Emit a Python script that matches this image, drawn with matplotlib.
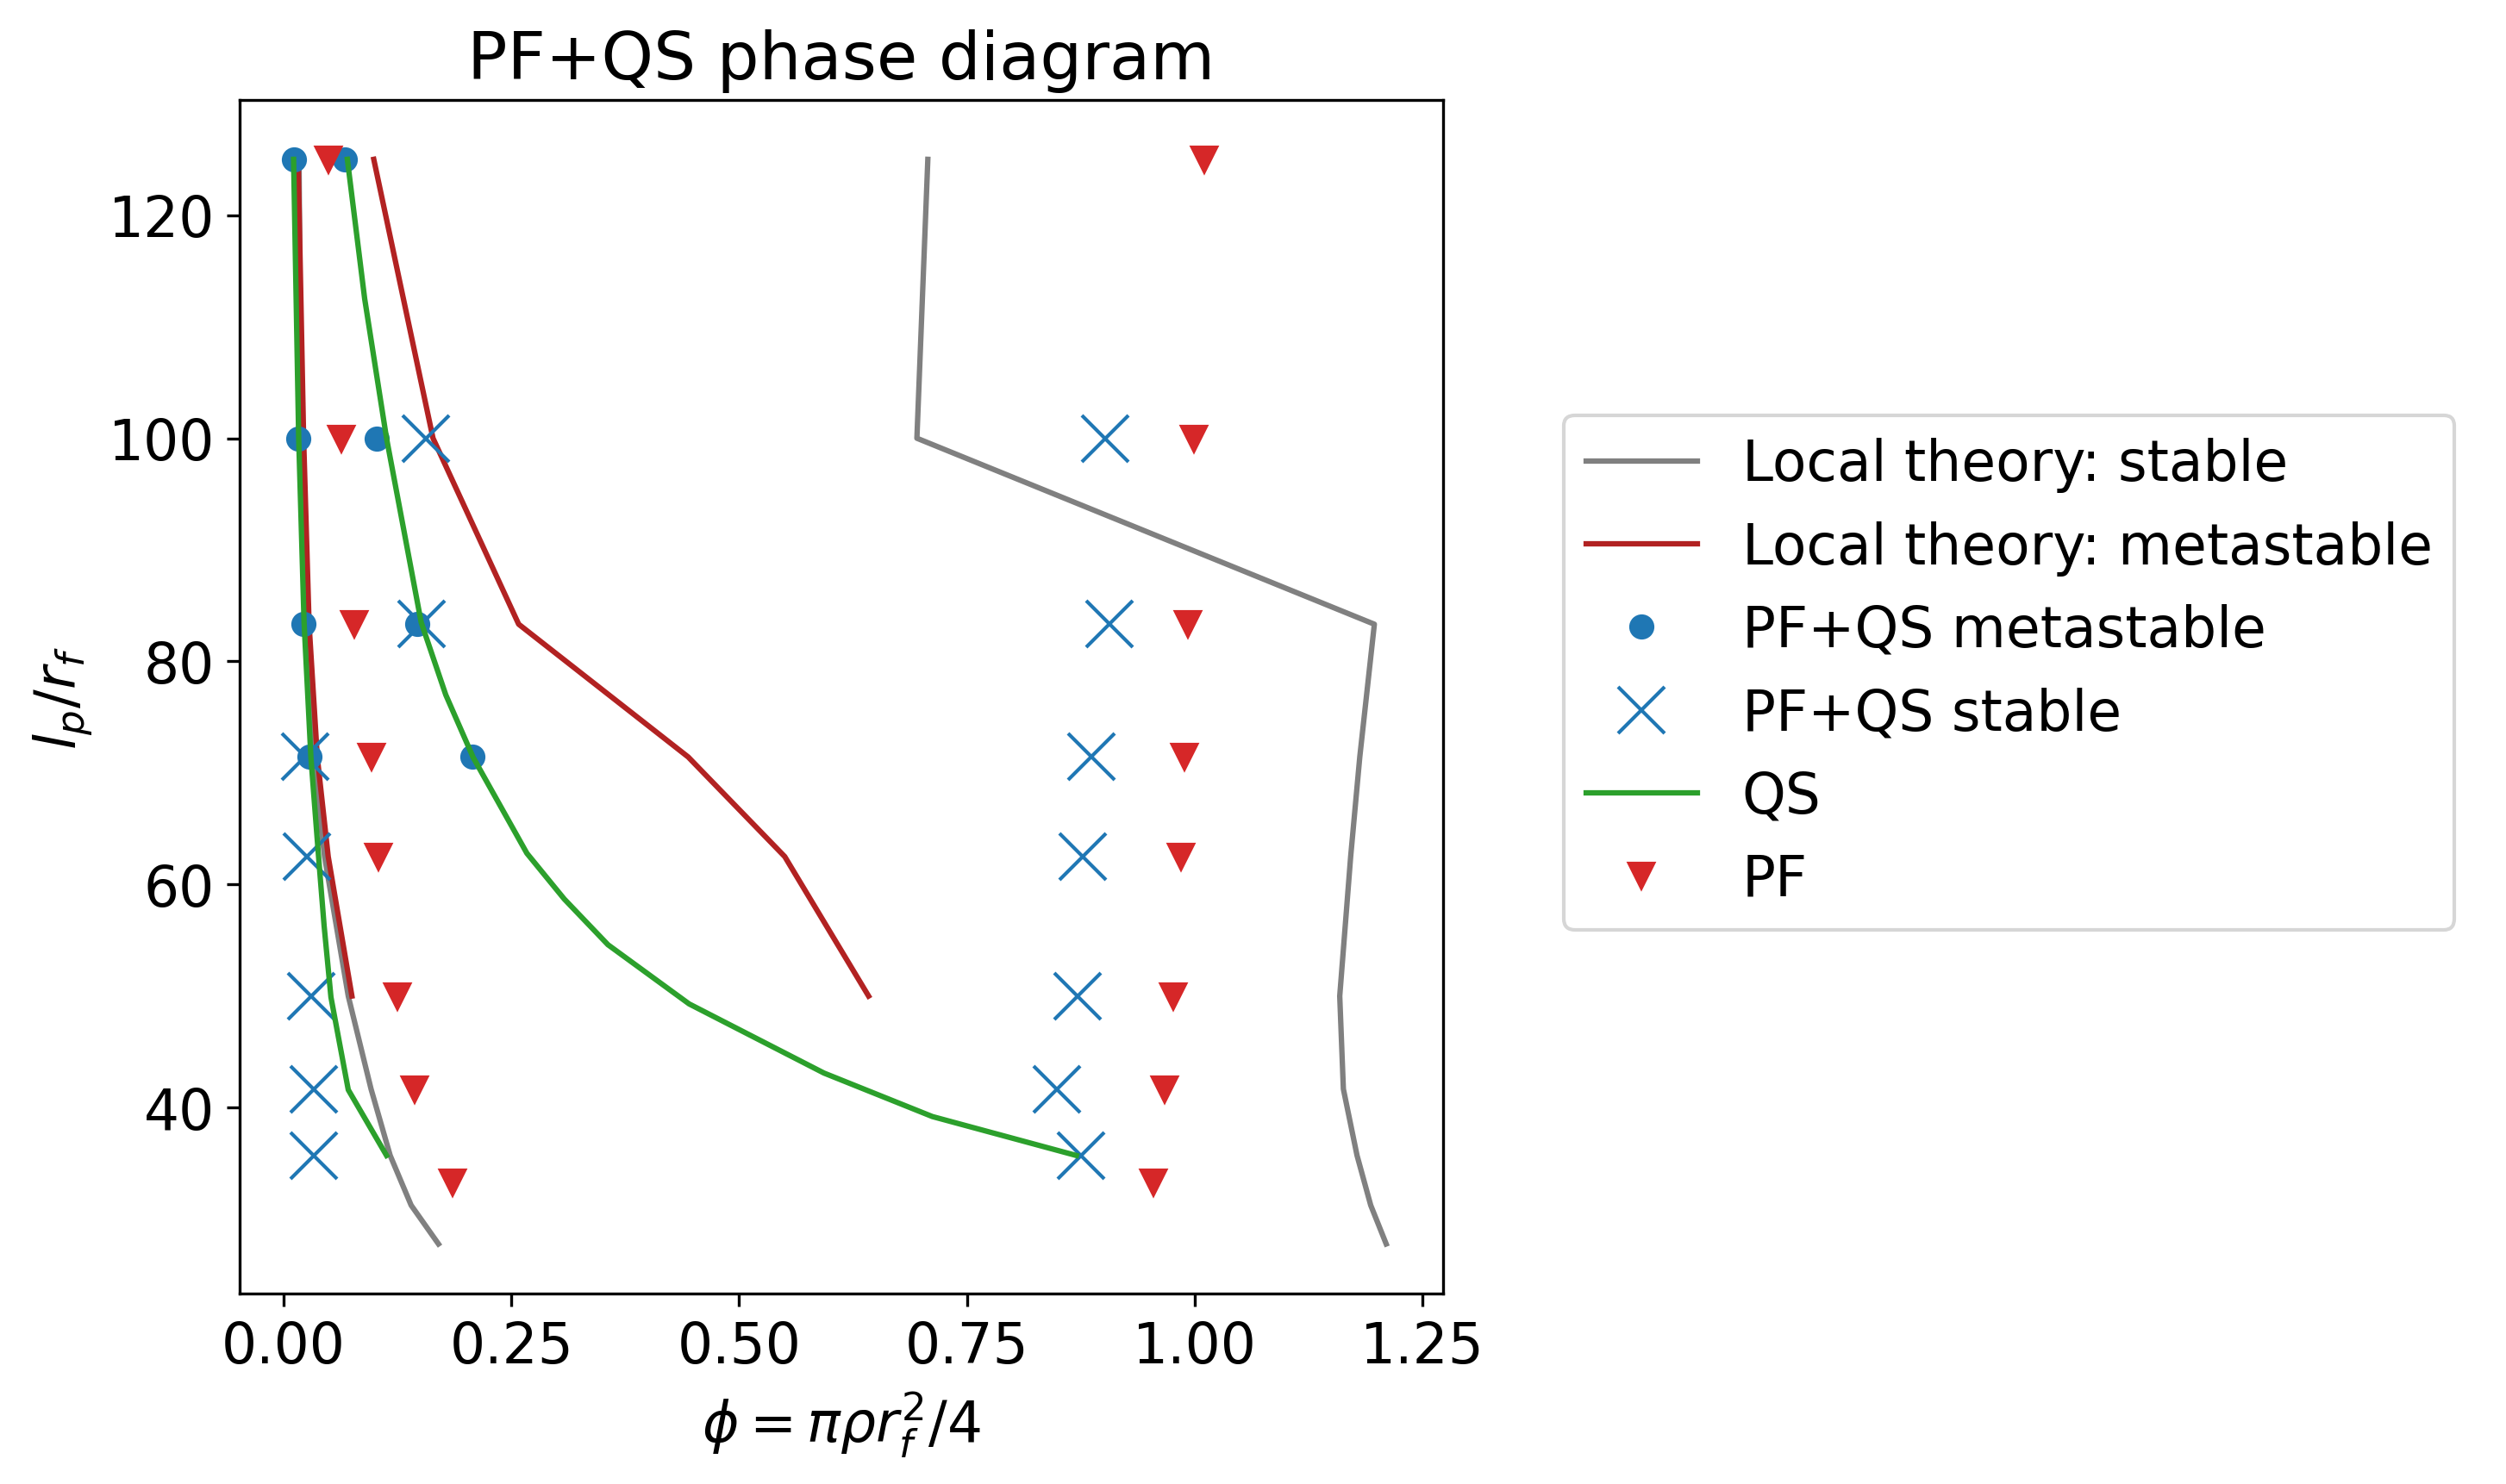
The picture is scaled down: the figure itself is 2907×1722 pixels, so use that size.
import matplotlib
matplotlib.use("Agg")
import matplotlib.pyplot as plt

ylev = [125, 100, 83.33, 71.43, 62.5, 50, 41.67, 35.71]

stable_r_x = [0.707, 0.695, 1.197, 1.181, 1.171, 1.159, 1.163, 1.178, 1.193, 1.210]
stable_r_y = [125, 100, 83.33, 71.43, 62.5, 50, 41.67, 35.71, 31.25, 27.78]
stable_l_x = [0.017, 0.019, 0.024, 0.032, 0.045, 0.071, 0.096, 0.117, 0.140, 0.170]
stable_l_y = stable_r_y

meta_l_x = [0.016, 0.022, 0.028, 0.037, 0.049, 0.075]
meta_r_x = [0.099, 0.164, 0.258, 0.444, 0.550, 0.642]
meta_y = [125, 100, 83.33, 71.43, 62.5, 50]

dots_x = [0.011, 0.067, 0.016, 0.102, 0.022, 0.147, 0.028, 0.207]
dots_y = [125, 125, 100, 100, 83.33, 83.33, 71.43, 71.43]

cross_x = [0.156, 0.902, 0.151, 0.906, 0.024, 0.886, 0.026, 0.877, 0.030, 0.871, 0.033, 0.849, 0.033, 0.875]
cross_y = [100, 100, 83.33, 83.33, 71.43, 71.43, 62.5, 62.5, 50, 50, 41.67, 41.67, 35.71, 35.71]

qs_l_x = [0.011, 0.0166, 0.0225, 0.030, 0.0386, 0.0445, 0.052, 0.071, 0.113]
qs_l_y = [125, 100, 83.5, 71.4, 62.3, 56.3, 49.9, 41.6, 35.71]
qs_r_x = [0.070, 0.089, 0.113, 0.151, 0.178, 0.208, 0.267, 0.308, 0.356, 0.445, 0.593, 0.712, 0.870]
qs_r_y = [125, 112.5, 100, 83.5, 77.0, 71.4, 62.8, 58.7, 54.6, 49.3, 43.1, 39.2, 35.71]

pf_x = [0.049, 1.010, 0.063, 0.999, 0.078, 0.992, 0.097, 0.989, 0.104, 0.985, 0.125, 0.976, 0.144, 0.967, 0.185, 0.955]
pf_y = [125, 125, 100, 100, 83.33, 83.33, 71.43, 71.43, 62.5, 62.5, 50, 50, 41.67, 41.67, 33.33, 33.33]

plt.rcParams['font.size'] = 15.5
fig = plt.figure(figsize=(9.69, 5.743), dpi=300)
ax = fig.add_axes([0.0957, 0.128, 0.48, 0.804])

lw = 1.5
ax.plot(stable_r_x, stable_r_y, color='gray', lw=lw, label='Local theory: stable')
ax.plot(stable_l_x, stable_l_y, color='gray', lw=lw)
ax.plot(meta_l_x, meta_y, color='#b22222', lw=lw, label='Local theory: metastable')
ax.plot(meta_r_x, meta_y, color='#b22222', lw=lw)
ax.plot(dots_x, dots_y, 'o', color='#1f77b4', ms=6, ls='none', label='PF+QS metastable')
ax.plot(cross_x, cross_y, 'x', color='#1f77b4', ms=13, mew=1.0, ls='none', label='PF+QS stable')
ax.plot(qs_l_x, qs_l_y, color='#2ca02c', lw=lw, label='QS')
ax.plot(qs_r_x, qs_r_y, color='#2ca02c', lw=lw)
ax.plot(pf_x, pf_y, 'v', color='#d62728', ms=6.5, ls='none', label='PF')

ax.set_xticks([0, 0.25, 0.5, 0.75, 1.0, 1.25])
ax.set_yticks([40, 60, 80, 100, 120])
ax.set_xlim(-0.048, 1.272)
ax.set_ylim(23.3, 130.3)
ax.set_xlabel(r'$\phi = \pi \rho r_f^2/4$')
ax.set_ylabel(r'$l_p/r_f$')
ax.set_title('PF+QS phase diagram', fontsize=18.5)
fig.legend(loc='upper left', bbox_to_anchor=(0.624, 0.72), borderaxespad=0, fontsize=15.5)
fig.savefig('out.png', dpi=300)
